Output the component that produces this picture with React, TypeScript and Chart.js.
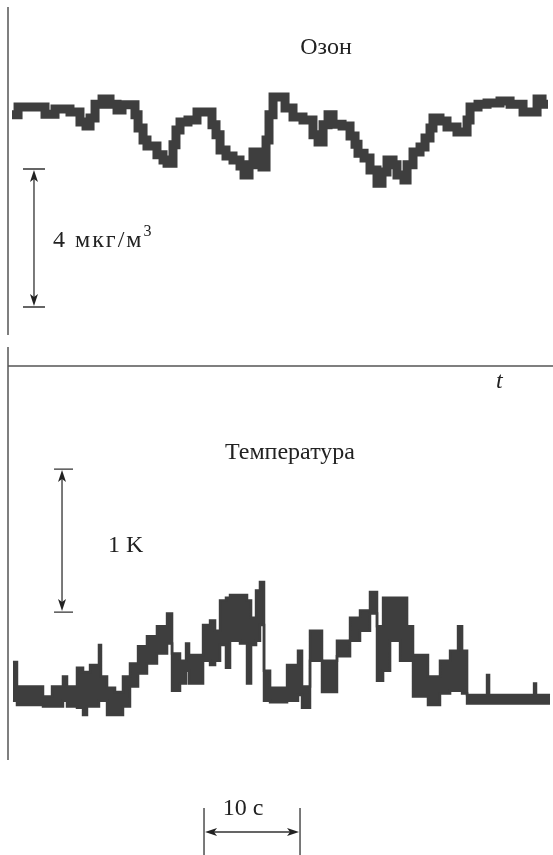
import React, { useEffect, useRef } from "react";
import { Chart, registerables } from "chart.js";

Chart.register(...registerables);

// Ozone trace: segment start time (s) and ozone deviation (мкг/м³), step-after
const TIME_OZ = [0.0, 0.63, 3.44, 4.48, 6.04, 7.08, 7.71, 8.13, 8.65, 9.38, 10.21, 10.94, 11.46, 12.81, 13.13, 13.65, 14.06, 15.1, 15.73, 16.15, 16.77, 17.08, 17.5, 18.33, 19.27, 20.83, 21.25, 21.67, 22.29, 23.02, 23.75, 24.17, 24.69, 25.1, 25.63, 26.04, 26.46, 26.77, 27.19, 28.44, 29.27, 30.31, 31.35, 31.88, 32.4, 32.92, 33.44, 34.38, 35.21, 35.73, 36.04, 36.67, 37.29, 38.02, 38.54, 39.06, 39.69, 40.1, 40.83, 41.15, 41.77, 42.5, 43.02, 43.54, 43.85, 44.58, 45.31, 46.35, 47.4, 47.71, 48.54, 49.48, 50.83, 51.88, 53.23, 54.69, 55.21, 55.83];
const OZONE = [-0.43, -0.2, -0.41, -0.26, -0.35, -0.64, -0.75, -0.52, -0.12, 0.03, -0.12, -0.29, -0.14, -0.43, -0.81, -1.16, -1.33, -1.59, -1.74, -1.83, -1.3, -0.87, -0.64, -0.58, -0.35, -0.72, -1.01, -1.45, -1.62, -1.74, -1.91, -2.17, -1.88, -1.51, -1.74, -1.94, -1.16, -0.43, 0.09, -0.23, -0.49, -0.58, -1.01, -1.22, -0.72, -0.43, -0.7, -0.75, -1.04, -1.28, -1.54, -1.68, -2.03, -2.41, -2.09, -1.74, -1.88, -2.17, -2.32, -1.88, -1.51, -1.36, -1.1, -0.81, -0.52, -0.61, -0.78, -0.93, -0.58, -0.2, -0.12, -0.09, -0.03, -0.12, -0.35, 0.03, -0.12, -0.12];

// Temperature trace: segment start time (s), upper and lower envelope (K), step-after
const TIME_T = [0.1, 0.52, 3.23, 4.17, 5.31, 5.73, 6.77, 7.4, 7.81, 8.13, 9.06, 9.27, 9.9, 10.73, 11.56, 12.29, 13.13, 14.06, 15.1, 16.15, 16.67, 17.5, 18.13, 18.44, 19.9, 20.63, 21.15, 21.67, 22.29, 22.71, 23.75, 24.48, 24.9, 25.42, 25.83, 26.25, 26.88, 28.65, 29.79, 30.21, 31.04, 32.29, 33.85, 35.21, 36.25, 37.29, 38.02, 38.65, 39.38, 40.42, 41.15, 41.77, 43.33, 44.58, 45.63, 46.46, 46.88, 47.4, 49.48, 49.69, 54.38, 54.58, 56.04];
const T_TOP = [-0.35, -0.52, -0.59, -0.52, -0.45, -0.52, -0.39, -0.42, -0.42, -0.37, -0.23, -0.45, -0.53, -0.56, -0.45, -0.36, -0.24, -0.17, -0.1, -0.01, -0.29, -0.34, -0.22, -0.3, -0.09, -0.06, -0.13, 0.08, 0.1, 0.12, 0.12, 0.08, -0.04, 0.15, 0.21, -0.41, -0.53, -0.37, -0.27, -0.52, -0.13, -0.34, -0.2, -0.04, 0.01, 0.14, -0.1, 0.1, 0.1, 0.1, -0.1, -0.3, -0.45, -0.34, -0.27, -0.1, -0.27, -0.58, -0.44, -0.58, -0.5, -0.58, -0.58];
const T_BOTTOM = [-0.62, -0.65, -0.66, -0.66, -0.62, -0.66, -0.67, -0.72, -0.66, -0.66, -0.62, -0.62, -0.72, -0.72, -0.66, -0.52, -0.43, -0.36, -0.29, -0.22, -0.55, -0.5, -0.41, -0.5, -0.34, -0.37, -0.34, -0.23, -0.39, -0.2, -0.22, -0.5, -0.23, -0.2, -0.09, -0.62, -0.63, -0.62, -0.58, -0.67, -0.34, -0.56, -0.31, -0.2, -0.13, -0.01, -0.48, -0.41, -0.2, -0.34, -0.34, -0.59, -0.65, -0.57, -0.55, -0.55, -0.57, -0.64, -0.64, -0.64, -0.64, -0.64, -0.64];

// Scale bars and labels
const TITLE_OZ = "Озон";
const TITLE_T = "Температура";
const OZ_BAR = { t: 2.29, from: -2, to: -6, label: "4 мкг/м", sup: "3" };
const T_BAR = { t: 5.21, from: 0, to: 1, label: "1 K" };
const TIME_BAR = { from: 20, to: 30, label: "10 с" };
const AXIS_LABEL = "t";

const TRACE = "#3e3e3e";
const FONT = "'Liberation Serif', 'DejaVu Serif', serif";

// explicit step-after polyline from segment starts
function stepPoints(times: number[], vals: number[]) {
  const pts: { x: number; y: number }[] = [];
  for (let i = 0; i < times.length; i++) {
    pts.push({ x: times[i], y: vals[i] });
    if (i < times.length - 1) pts.push({ x: times[i + 1], y: vals[i] });
  }
  return pts;
}

function arrowHead(ctx: CanvasRenderingContext2D, x: number, y: number, dx: number, dy: number) {
  const len = 12, hw = 4;
  const px = -dy, py = dx;
  ctx.beginPath();
  ctx.moveTo(x, y);
  ctx.lineTo(x - dx * len + px * hw, y - dy * len + py * hw);
  ctx.lineTo(x - dx * len * 0.75, y - dy * len * 0.75);
  ctx.lineTo(x - dx * len - px * hw, y - dy * len - py * hw);
  ctx.closePath();
  ctx.fill();
}

const decorations = {
  id: "decorations",
  afterDraw(chart: any) {
    const ctx: CanvasRenderingContext2D = chart.ctx;
    const xs = chart.scales.x, yo = chart.scales.yOz, yt = chart.scales.yT;
    ctx.save();
    // panel axes
    ctx.strokeStyle = "#555";
    ctx.lineWidth = 1.5;
    ctx.beginPath();
    ctx.moveTo(8, 7); ctx.lineTo(8, 335);
    ctx.moveTo(8, 347); ctx.lineTo(8, 760);
    ctx.moveTo(8, 366); ctx.lineTo(553, 366);
    ctx.stroke();

    ctx.fillStyle = "#222";
    ctx.strokeStyle = "#333";
    ctx.lineWidth = 1.3;

    // ozone vertical scale bar
    {
      const x = xs.getPixelForValue(OZ_BAR.t);
      const y1 = yo.getPixelForValue(OZ_BAR.from), y2 = yo.getPixelForValue(OZ_BAR.to);
      ctx.beginPath();
      ctx.moveTo(x, y1 + 4); ctx.lineTo(x, y2 - 4);
      ctx.moveTo(x - 11, y1); ctx.lineTo(x + 11, y1);
      ctx.moveTo(x - 11, y2); ctx.lineTo(x + 11, y2);
      ctx.stroke();
      arrowHead(ctx, x, y1 + 1, 0, -1);
      arrowHead(ctx, x, y2 - 1, 0, 1);
      ctx.font = `24px ${FONT}`;
      ctx.textBaseline = "alphabetic";
      ctx.textAlign = "left";
      (ctx as any).letterSpacing = "2px";
      const ly = (y1 + y2) / 2 + 9;
      ctx.fillText(OZ_BAR.label, x + 19, ly);
      const w = ctx.measureText(OZ_BAR.label).width;
      (ctx as any).letterSpacing = "0px";
      ctx.font = `16px ${FONT}`;
      ctx.fillText(OZ_BAR.sup, x + 19 + w, ly - 11);
    }
    // temperature vertical scale bar
    {
      const x = xs.getPixelForValue(T_BAR.t);
      const y1 = yt.getPixelForValue(T_BAR.from), y2 = yt.getPixelForValue(T_BAR.to);
      ctx.beginPath();
      ctx.moveTo(x, y1 - 4); ctx.lineTo(x, y2 + 4);
      ctx.moveTo(x - 8, y1); ctx.lineTo(x + 11, y1);
      ctx.moveTo(x - 8, y2); ctx.lineTo(x + 11, y2);
      ctx.stroke();
      arrowHead(ctx, x, y1 - 1, 0, 1);
      arrowHead(ctx, x, y2 + 1, 0, -1);
      ctx.font = `24px ${FONT}`;
      ctx.textAlign = "left";
      ctx.fillText(T_BAR.label, x + 46, (y1 + y2) / 2 + 11);
    }
    // time scale bar
    {
      const x1 = xs.getPixelForValue(TIME_BAR.from), x2 = xs.getPixelForValue(TIME_BAR.to);
      const y = 832;
      ctx.beginPath();
      ctx.moveTo(x1, 808); ctx.lineTo(x1, 855);
      ctx.moveTo(x2, 808); ctx.lineTo(x2, 855);
      ctx.moveTo(x1 + 4, y); ctx.lineTo(x2 - 4, y);
      ctx.stroke();
      arrowHead(ctx, x1 + 1, y, -1, 0);
      arrowHead(ctx, x2 - 1, y, 1, 0);
      ctx.font = `24px ${FONT}`;
      ctx.textAlign = "center";
      ctx.fillText(TIME_BAR.label, (x1 + x2) / 2 - 9, 815);
    }
    // titles
    ctx.font = `24px ${FONT}`;
    ctx.textAlign = "center";
    ctx.fillText(TITLE_OZ, 326, 54);
    ctx.fillText(TITLE_T, 290, 459);
    ctx.font = `italic 24px ${FONT}`;
    ctx.textAlign = "left";
    ctx.fillText(AXIS_LABEL, 496, 388);
    ctx.restore();
  },
};

export default function App() {
  const ref = useRef<HTMLCanvasElement>(null);
  useEffect(() => {
    if (!ref.current) return;
    const chart = new Chart(ref.current, {
      type: "line",
      data: {
        datasets: [
          {
            label: TITLE_OZ,
            data: stepPoints(TIME_OZ, OZONE),
            yAxisID: "yOz",
            borderColor: TRACE,
            borderWidth: 9,
            borderJoinStyle: "miter",
            borderCapStyle: "butt",
            pointRadius: 0,
            tension: 0,
            fill: false,
          },
          {
            label: TITLE_T + " min",
            data: stepPoints(TIME_T, T_BOTTOM),
            yAxisID: "yT",
            borderColor: TRACE,
            borderWidth: 2.5,
            pointRadius: 0,
            tension: 0,
            fill: false,
          },
          {
            label: TITLE_T,
            data: stepPoints(TIME_T, T_TOP),
            yAxisID: "yT",
            borderColor: TRACE,
            backgroundColor: TRACE,
            borderWidth: 2.5,
            pointRadius: 0,
            tension: 0,
            fill: "-1",
          },
        ],
      },
      options: {
        responsive: false,
        animation: false,
        layout: { padding: 0 },
        plugins: { legend: { display: false }, tooltip: { enabled: false } },
        scales: {
          x: { type: "linear", min: -1.25, max: 56.35, display: false },
          yOz: { type: "linear", min: -21.884, max: 2.899, display: false },
          yT: { type: "linear", min: -1.699, max: 4.28, display: false },
        },
      },
      plugins: [decorations],
    });
    return () => chart.destroy();
  }, []);
  return (
    <div style={{ position: "absolute", left: 0, top: 0, width: 553, height: 855, background: "#fff" }}>
      <canvas ref={ref} width={553} height={855} />
    </div>
  );
}
